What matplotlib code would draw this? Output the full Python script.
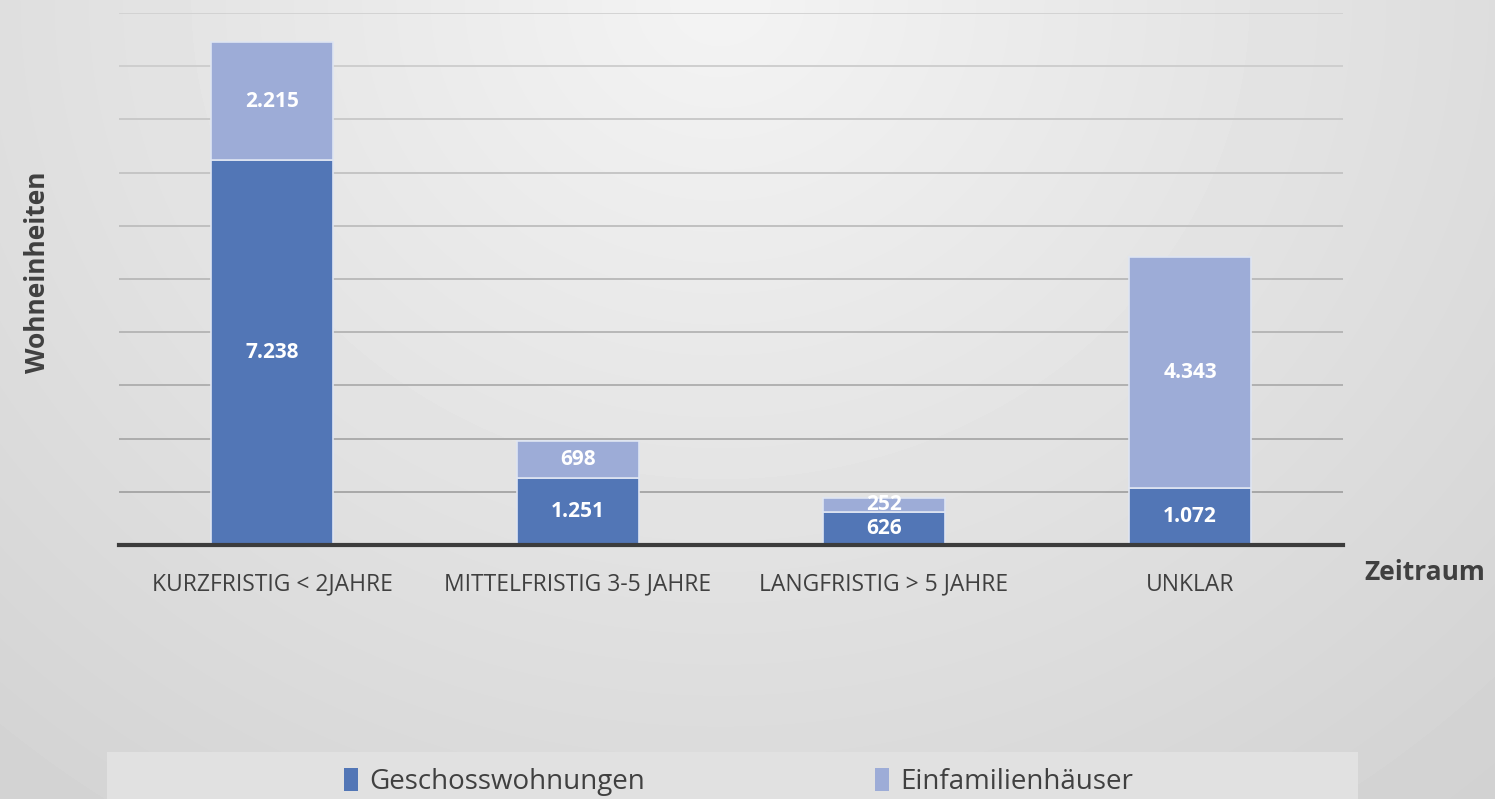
import matplotlib.pyplot as plt
import numpy as np
from matplotlib.patches import Rectangle

# Data
categories = ['KURZFRISTIG < 2JAHRE', 'MITTELFRISTIG 3-5 JAHRE', 'LANGFRISTIG > 5 JAHRE', 'UNKLAR']
geschoss = [7238, 1251, 626, 1072]
efh = [2215, 698, 252, 4343]
series_names = ['Geschosswohnungen', 'Einfamilienhäuser']

col_dark = '#5276b6'
col_light = '#9dacd7'
txt_col = '#404040'

plt.rcParams['font.family'] = ['Open Sans', 'DejaVu Sans']

W, H = 1495, 799
fig = plt.figure(figsize=(W / 100, H / 100), dpi=100)

# background gradient (light at top centre, darker towards the edges)
bg = fig.add_axes([0, 0, 1, 1], zorder=-10)
yy, xx = np.mgrid[0:H, 0:W]
r = np.sqrt(((xx - 720) / 1050.0) ** 2 + ((yy - 0) / 950.0) ** 2)
shade = 0.955 - 0.12 * np.clip(r, 0, 1.3)
bg.imshow(shade, cmap='gray', vmin=0, vmax=1, aspect='auto', extent=[0, W, H, 0])
bg.set_axis_off()

# legend box
fig.patches.append(Rectangle((107 / W, 0), (1358 - 107) / W, (799 - 752) / H,
                             transform=fig.transFigure, facecolor='#e1e1e1',
                             edgecolor='none', zorder=-5))

ax = fig.add_axes([119 / W, 1 - 545 / H, (1343 - 119) / W, (545 - 13) / H])
ax.patch.set_alpha(0)

x = np.arange(len(categories))
w = 0.4
b1 = ax.bar(x, geschoss, w, color=col_dark, edgecolor='#dfe5f2', linewidth=1.2,
            label=series_names[0], zorder=3)
b2 = ax.bar(x, efh, w, bottom=geschoss, color=col_light, edgecolor='#dfe5f2',
            linewidth=1.2, label=series_names[1], zorder=3)

def fmt(v):
    return f'{v:,}'.replace(',', '.')

for i in range(len(categories)):
    ax.text(x[i], geschoss[i] / 2, fmt(geschoss[i]), ha='center', va='center',
            color='white', fontsize=15, fontweight='bold', zorder=5)
    ax.text(x[i], geschoss[i] + efh[i] / 2, fmt(efh[i]), ha='center', va='center',
            color='white', fontsize=15, fontweight='bold', zorder=5)

ax.set_xlim(-0.5, 3.5)
ax.set_ylim(0, 10000)
# gridlines get a little darker towards the baseline
for gy in range(1000, 10001, 1000):
    g = 0.62 + 0.2 * (gy / 10000.0)
    ax.axhline(gy, color=(g, g, g), lw=1.3, zorder=1)
ax.set_yticks([])
ax.set_xticks(x)
ax.set_xticklabels(categories, fontsize=16.5, color=txt_col)
ax.tick_params(axis='x', length=0, pad=20)
for s in ['top', 'right', 'left']:
    ax.spines[s].set_visible(False)
ax.spines['bottom'].set_color('#3c3c3c')
ax.spines['bottom'].set_linewidth(3)
ax.spines['bottom'].set_zorder(4)

fig.text(38 / W, 1 - 272 / H, 'Wohneinheiten', rotation=90, ha='center', va='center',
         fontsize=19, fontweight='bold', color=txt_col)
fig.text(1425 / W, 1 - 573 / H, 'Zeitraum', ha='center', va='center',
         fontsize=19, fontweight='bold', color=txt_col)

leg = fig.legend(handles=[b1, b2], labels=series_names, loc='center left',
                 bbox_to_anchor=(330 / W, 1 - 782 / H), ncol=2, frameon=False,
                 fontsize=20, handlelength=0.5, handleheight=0.9, handletextpad=0.4,
                 columnspacing=8.3, borderpad=0, labelcolor=txt_col)
for h in leg.legend_handles:
    h.set_edgecolor('none')

fig.savefig('out.png', dpi=100)
